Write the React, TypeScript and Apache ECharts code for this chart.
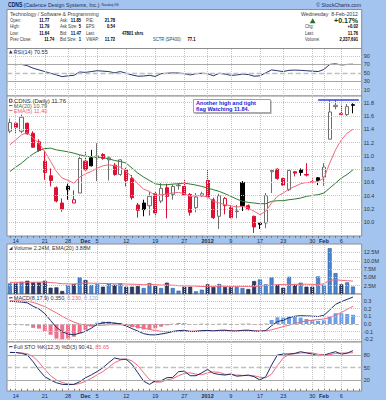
import React, { useEffect, useRef } from "react";
import * as echarts from "echarts";

const FONT = "Liberation Sans, Arial, sans-serif";

const dates = [
  "2011-11-11","2011-11-14","2011-11-15","2011-11-16","2011-11-17","2011-11-18",
  "2011-11-21","2011-11-22","2011-11-23","2011-11-25","2011-11-28","2011-11-29","2011-11-30",
  "2011-12-01","2011-12-02","2011-12-05","2011-12-06","2011-12-07","2011-12-08","2011-12-09",
  "2011-12-12","2011-12-13","2011-12-14","2011-12-15","2011-12-16","2011-12-19","2011-12-20",
  "2011-12-21","2011-12-22","2011-12-23","2011-12-27","2011-12-28","2011-12-29","2011-12-30",
  "2012-01-03","2012-01-04","2012-01-05","2012-01-06","2012-01-09","2012-01-10","2012-01-11",
  "2012-01-12","2012-01-13","2012-01-17","2012-01-18","2012-01-19","2012-01-20","2012-01-23",
  "2012-01-24","2012-01-25","2012-01-26","2012-01-27","2012-01-30","2012-01-31","2012-02-01",
  "2012-02-02","2012-02-03","2012-02-06","2012-02-07","2012-02-08"
];
const padDate = "2012-02-09";

const tickDates = ["2011-11-14","2011-11-21","2011-11-28","2011-12-01","2011-12-05","2011-12-12","2011-12-19","2011-12-27","2012-01-03","2012-01-09","2012-01-17","2012-01-23","2012-01-30","2012-02-01","2012-02-06"];
const tickLabels = ["14","21","28","Dec","5","12","19","27","2012","9","17","23","30","Feb","6"];
const boldTickLabels = ["Dec","2012","Feb"];

const open = [11.37,11.49,11.37,11.49,11.34,11.21,10.92,10.70,10.52,10.29, 10.54,10.29,10.44,10.92,10.97,10.97,11.02,10.94,10.86,10.72, 10.79,10.66,10.26,10.29,10.25,10.43,10.32,10.52,10.42,10.55, 10.54,10.42,10.22,10.40,10.63,10.34,10.09,10.25,10.22,10.16, 10.60,10.25,10.09,9.99,9.99,10.76,10.80,10.66,10.49,10.76, 10.79,10.72,10.60,10.67,10.68,11.25,11.74,11.62,11.62,11.77];
const close = [11.50,11.43,11.58,11.33,11.13,11.08,10.75,10.63,10.32,10.20, 10.49,10.34,10.96,10.79,10.85,11.00,10.96,10.97,10.72,10.94, 10.63,10.37,10.18,10.19,10.39,10.14,10.51,10.39,10.54,10.56, 10.41,10.15,10.38,10.43,10.38,10.07,10.40,10.36,10.07,10.17, 10.25,10.20,9.93,9.97,10.40,10.78,10.66,10.56,10.78,10.74, 10.75,10.71,10.61,10.63,10.83,11.66,11.76,11.64,11.74,11.76];
const low = [11.34,11.34,11.34,11.32,11.12,11.06,10.64,10.54,10.30,10.16, 10.34,10.29,10.44,10.78,10.84,10.62,10.94,10.63,10.70,10.70, 10.54,10.34,10.07,10.09,10.10,10.09,10.29,10.06,10.34,10.49, 10.40,10.10,10.15,10.38,10.36,10.05,9.90,10.12,10.06,10.06, 10.17,10.18,9.84,9.90,9.91,10.44,10.64,10.55,10.47,10.69, 10.70,10.69,10.58,10.56,10.55,11.25,11.70,11.62,11.60,11.64];
const high = [11.56,11.50,11.62,11.50,11.37,11.25,11.07,10.81,10.54,10.36, 10.58,10.48,11.01,11.07,11.09,11.19,11.04,10.99,10.89,10.95, 10.82,10.71,10.29,10.34,10.46,10.46,10.59,10.58,10.57,10.59, 10.65,10.44,10.44,10.46,10.79,10.37,10.43,10.38,10.26,10.26, 10.62,10.27,10.10,10.00,10.44,10.79,10.81,10.67,10.79,10.77, 10.81,10.89,10.66,10.68,10.89,11.84,11.84,11.77,11.78,11.79];

const ma20 = [10.765,10.83,10.89,10.965,11.03,11.08,11.11,11.115,11.09,11.075, 11.06,11.04,11.015,10.995,10.985,10.98,10.975,10.955,10.93,10.915, 10.89,10.815,10.74,10.68,10.63,10.58,10.565,10.565,10.575,10.58, 10.59,10.575,10.56,10.54,10.515,10.49,10.465,10.43,10.39,10.35, 10.315,10.30,10.29,10.28,10.28,10.315,10.325,10.325,10.34,10.35, 10.365,10.39,10.405,10.415,10.44,10.515,10.59,10.665,10.72,10.79];
const ema5 = [11.165,11.24,11.315,11.35,11.265,11.19,11.065,10.915,10.765,10.665, 10.63,10.59,10.68,10.73,10.765,10.815,10.85,10.865,10.85,10.83, 10.765,10.68,10.58,10.50,10.465,10.40,10.415,10.425,10.44,10.45, 10.43,10.39,10.40,10.40,10.38,10.315,10.29,10.265,10.25,10.23, 10.24,10.215,10.165,10.115,10.165,10.29,10.39,10.44,10.50,10.54, 10.58,10.60,10.60,10.615,10.665,10.89,11.09,11.24,11.34,11.40];
const flagLevel = 11.84;
const flagStart = "2012-01-31";

const volumeM = [3.2,3.2,3.7,4.0,3.5,3.5,4.0,1.9,2.0,0.9, 2.7,3.0,5.0,4.2,2.7,3.0,2.2,3.2,2.8,3.2, 2.2,2.2,2.4,1.8,3.3,2.4,1.8,3.4,1.8,1.0, 2.2,2.2,0.8,1.3,2.9,2.1,3.0,2.1,2.1,2.1, 1.8,1.5,3.9,4.4,2.9,5.0,2.8,1.9,5.2,2.8, 3.4,2.2,2.2,5.3,2.8,13.8,6.3,2.9,3.5,2.24];
const volEmaM = [3.5,3.5,3.5,3.55,3.55,3.55,3.6,3.45,3.3,3.1, 3.05,3.0,3.2,3.3,3.25,3.25,3.15,3.15,3.1,3.1, 3.0,2.95,2.9,2.8,2.85,2.8,2.7,2.75,2.65,2.5, 2.45,2.45,2.35,2.25,2.3,2.3,2.35,2.3,2.3,2.3, 2.3,2.25,2.2,2.4,2.6,2.6,2.85,2.85,2.75,2.95, 2.95,2.95,2.9,2.85,3.1,4.1,4.3,4.1,4.0,3.88];

const rsi = [70,69.5,70,67,61,57,53,49,45,41, 43,44,52,51,53,55,54,53,50,53, 49,45,42,42.5,44,41.5,48,49,50,49.5, 48,45,48,49,48,43,49,47,44,45, 47,46,42,43,50,57,55,53,56,56.5, 56,55,54,53,58,70,71.5,68.5,70,70.55];

const macd = [0.295,0.29,0.285,0.275,0.23,0.195,0.135,0.045,-0.045,-0.10, -0.13,-0.14,-0.12,-0.095,-0.055,-0.003,0.015,0.02,0.01,0.003, -0.025,-0.06,-0.092,-0.125,-0.14,-0.142,-0.13,-0.117,-0.097,-0.085, -0.082,-0.097,-0.096,-0.086,-0.084,-0.09,-0.082,-0.08,-0.09,-0.092, -0.082,-0.08,-0.092,-0.095,-0.085,-0.023,0.032,0.048,0.081,0.101, 0.108,0.105,0.102,0.097,0.113,0.181,0.255,0.29,0.32,0.35];
const macdSignal = [0.30,0.30,0.30,0.295,0.28,0.255,0.225,0.185,0.145,0.10, 0.06,0.025,0.0,-0.015,-0.02,-0.02,-0.015,-0.01,-0.01,-0.01, -0.012,-0.02,-0.035,-0.055,-0.07,-0.085,-0.095,-0.10,-0.10,-0.098, -0.095,-0.093,-0.092,-0.09,-0.088,-0.087,-0.086,-0.085,-0.086,-0.087, -0.086,-0.085,-0.087,-0.09,-0.09,-0.075,-0.055,-0.035,-0.015,0.005, 0.025,0.04,0.05,0.057,0.065,0.085,0.115,0.15,0.19,0.23];
const macdHist = [-0.005,-0.01,-0.015,-0.02,-0.05,-0.06,-0.09,-0.14,-0.19,-0.20, -0.19,-0.165,-0.12,-0.08,-0.035,0.017,0.03,0.03,0.02,0.013, -0.013,-0.04,-0.057,-0.07,-0.07,-0.057,-0.035,-0.017,0.003,0.013, 0.013,-0.004,-0.004,0.004,0.004,-0.003,0.004,0.005,-0.004,-0.005, 0.004,0.005,-0.005,-0.005,0.005,0.052,0.087,0.083,0.096,0.096, 0.083,0.065,0.052,0.04,0.048,0.096,0.14,0.14,0.13,0.12];

const stoK = [86,86,84,80,64,44.5,28.7,20.8,14.4,10.5, 10,10.5,16.8,26,33,41,50,62,73,70, 70,58,38,18,10.5,18.4,19,26.3,27,40.5, 42,31,31,38,46,36.5,34,32.6,35,30, 31,32.6,28.7,20.8,28.7,56.3,80,82.4,82.4,84, 87.9,85,82.4,78.4,80,84,88,82,84.5,90.41];
const stoD = [86.5,86,85,83,76,63,46,31,21,15, 11.5,10.3,12.4,17.8,25,33,41,51,62,68, 71,66,55,38,22,15.6,16,21,24,31, 36.6,37.8,34.6,33.3,38,40,39,34.4,34,32.5, 32,31.2,30.8,27.4,26,35,55,73,81.6,83, 84.8,85.6,85.1,82,80.3,80.8,84,84.7,84.8,85.65];

const priceLabels = [10.0,10.2,10.4,10.6,10.8,11.0,11.2,11.4,11.6,11.8];
const rsiLabels = [10,30,50,70,90];
const volLabels = [2.5e6,5e6,7.5e6,10e6,12.5e6];
const macdLabels = [-0.2,-0.1,0,0.1,0.2,0.3];
const stoLabels = [20,50,80];

const headerCol1 = [["Open:","11.77"],["High:","11.79"],["Low:","11.64"],["Prev Close:","11.74"]];
const headerCol2 = [["Ask:","11.85"],["Ask Size:","5"],["Bid:","11.47"],["Bid Size:","1"]];
const headerCol3 = [["P/E:","21.78"],["EPS:","0.54"],["Last:","47801 shrs"],["VWAP:","11.72"]];
const headerRight = [["Chg:","+0.02"],["Last:","11.76"],["Volume:","2,237,691"]];

function buildOption() {
  const cats = [...dates, padDate];
  const tickSet = new Set(tickDates);
  const tickText: Record<string, string> = {};
  tickDates.forEach((d, i) => (tickText[d] = tickLabels[i]));
  const L = 7, W = 354.7;
  const panels = [
    { top: 48.5, height: 47.5, min: -5, max: 107.8, labels: rsiLabels, fmt: (v: number) => String(v), xl: false },
    { top: 96, height: 140, min: 9.794, max: 11.9, labels: priceLabels, fmt: (v: number) => v.toFixed(1), xl: true },
    { top: 244, height: 50, min: 0, max: 15.06e6, labels: volLabels, fmt: (v: number) => (v / 1e6).toFixed(1) + "M", xl: false },
    { top: 294, height: 48, min: -0.2338, max: 0.3896, labels: macdLabels, fmt: (v: number) => v.toFixed(1), xl: false },
    { top: 342, height: 49, min: -5.2, max: 110.9, labels: stoLabels, fmt: (v: number) => String(v), xl: true },
  ];

  const grid = panels.map((p) => ({
    left: L, width: W, top: p.top, height: p.height, show: true,
    backgroundColor: "#ffffff", borderColor: "#8c8c8c", borderWidth: 1,
  }));

  const xAxis = panels.map((p, i) => ({
    type: "category", gridIndex: i, data: cats, boundaryGap: true,
    axisLine: { show: false },
    axisTick: { show: p.xl, interval: 0, alignWithLabel: true, length: 2, lineStyle: { color: "#7a7a7a" } },
    axisLabel: {
      show: p.xl, interval: (_idx: number, val: string) => tickSet.has(val), margin: 1.5,
      fontSize: 5.5, fontFamily: FONT, color: "#1c2a55",
      formatter: (val: string) => { const t = tickText[val] || ""; return boldTickLabels.includes(t) ? `{b|${t}}` : t; },
      rich: { b: { fontWeight: "bold", fontSize: 5.5, fontFamily: FONT, color: "#1c2a55" } },
    },
    splitLine: { show: false },
  }));

  const yAxis = panels.map((p, i) => ({
    type: "value", gridIndex: i, position: "right", min: p.min, max: p.max,
    axisLine: { show: false }, axisTick: { show: false }, splitLine: { show: false },
    axisLabel: { customValues: p.labels, formatter: p.fmt, fontSize: 5.5, fontFamily: FONT, color: "#333", margin: 2 },
  }));

  const dotted = { type: "dotted", color: "#c6c6c6", width: 1 };
  const vLines = tickDates.map((d) => ({ xAxis: d, lineStyle: dotted }));
  const hl = (v: number, type: string, color: string, width = 1) => ({ yAxis: v, lineStyle: { type, color, width } });
  const gridSeries = (i: number, h: any[]) => ({
    type: "line", xAxisIndex: i, yAxisIndex: i, data: [], z: 1, silent: true,
    markLine: { silent: true, symbol: ["none", "none"], label: { show: false }, animation: false, data: [...vLines, ...h] },
  });

  const RED = "#dd1133";
  const candleData = close.map((c, i) => {
    const o = open[i];
    const prev = i > 0 ? close[i - 1] : o;
    const hollow = c >= o;
    const gain = c >= prev;
    const col = gain ? (hollow ? "#6e6e6e" : "#000000") : RED;
    const fill = hollow ? "#ffffff" : col;
    return { value: [o, c, low[i], high[i]], itemStyle: { color: fill, color0: fill, borderColor: col, borderColor0: col, borderWidth: 1 } };
  });
  const volData = volumeM.map((v, i) => {
    const up = i === 0 ? true : close[i] >= close[i - 1];
    return { value: v * 1e6, itemStyle: up ? { color: "#4a86d0", borderColor: "#2b5c9e", borderWidth: 0.6 } : { color: "#2a3b6a", borderColor: "#1a2548", borderWidth: 0.6 } };
  });
  const histData = macdHist.map((v) => ({ value: v, itemStyle: { color: v >= 0 ? "#6e9fe6" : "#f0708c" } }));

  const line = (i: number, data: number[], color: string, z = 4, width = 1) => ({
    type: "line", xAxisIndex: i, yAxisIndex: i, data, symbol: "none", silent: true, z,
    lineStyle: { color, width }, emphasis: { disabled: true },
  });

  const series: any[] = [
    gridSeries(0, [hl(10, "dotted", "#c6c6c6"), hl(90, "dotted", "#c6c6c6"), hl(30, "solid", "#a8a8a8"), hl(70, "solid", "#a8a8a8"), hl(50, "dashed", "#c0c0c0", 1.3)]),
    line(0, rsi, "#23336e"),
    gridSeries(1, priceLabels.map((v) => hl(v, "dotted", "#c6c6c6"))),
    { type: "candlestick", xAxisIndex: 1, yAxisIndex: 1, data: candleData, barWidth: 3.6, z: 3, silent: true },
    line(1, ma20, "#2f7a2f"),
    line(1, ema5, "#f06a7a"),
    {
      type: "line", xAxisIndex: 1, yAxisIndex: 1, data: [], z: 6, silent: true,
      markLine: { silent: true, symbol: ["none", "none"], label: { show: false }, animation: false,
        lineStyle: { color: "#3340ee", width: 1.5, type: "solid" },
        data: [[{ coord: [flagStart, flagLevel] }, { coord: [padDate, flagLevel] }]] },
    },
    gridSeries(2, volLabels.map((v) => hl(v, "dotted", "#c6c6c6"))),
    { type: "bar", xAxisIndex: 2, yAxisIndex: 2, data: volData, barWidth: 4, z: 3, silent: true },
    line(2, volEmaM.map((v) => v * 1e6), "#f06a7a"),
    gridSeries(3, [...macdLabels.filter((v) => v !== 0).map((v) => hl(v, "dotted", "#c6c6c6")), hl(0, "dashed", "#b8b8b8")]),
    { type: "bar", xAxisIndex: 3, yAxisIndex: 3, data: histData, barWidth: 4, z: 3, silent: true },
    line(3, macdSignal, "#f06a7a"),
    line(3, macd, "#1b2b6b"),
    gridSeries(4, [hl(20, "solid", "#a8a8a8"), hl(80, "solid", "#a8a8a8"), hl(50, "dashed", "#c0c0c0", 1.3)]),
    line(4, stoD, "#f06a7a"),
    line(4, stoK, "#1b2b6b"),
  ];

  // text helper; narrow texts are squeezed horizontally around their anchor point
  const T = (text: string, x: number, y: number, o: any = {}) => ({
    type: "text", x, y, z: 10, silent: true, scaleX: o.sx ?? 1, scaleY: 1,
    style: {
      text, fontSize: o.size ?? 5.2, fontFamily: FONT, fontWeight: o.bold ? "bold" : "normal",
      fill: o.color ?? "#3a3a3a", align: o.align ?? "left", textAlign: o.align ?? "left",
      verticalAlign: "middle", textVerticalAlign: "middle", rich: o.rich,
    },
  });
  const N = 0.8;
  const rows = [20.6, 26.8, 33.0, 39.3];
  const g: any[] = [
    { type: "rect", z: 5, silent: true, shape: { x: 7, y: 9.5, width: W, height: 39 }, style: { fill: "#ffffff", stroke: "#8c8c8c", lineWidth: 1 } },
    T("CDNS", 8, 4.8, { bold: true, size: 6.3, sx: 0.8, color: "#0c1c4c" }),
    T("(Cadence Design Systems, Inc.)", 23.5, 5, { size: 5.3, color: "#1c2c5c" }),
    T("Nasdaq GS", 101.5, 5, { size: 4.2, sx: N, color: "#1c2c5c" }),
    T("© StockCharts.com", 361, 5, { size: 5.2, color: "#1c2c5c", align: "right" }),
    T("Technology / Software & Programming", 10, 14.3),
    T("Wednesday  8-Feb-2012", 358, 14.3, { align: "right" }),
  ];
  const lab = (t: string, x: number, y: number) => T(t, x, y, { sx: N });
  const val = (t: string, x: number, y: number) => T(t, x, y, { sx: N, bold: true, color: "#000", align: "right" });
  headerCol1.forEach(([l, v], r) => { g.push(lab(l, 10, rows[r])); g.push(val(v, r === 3 ? 54.3 : 49.3, rows[r])); });
  headerCol2.forEach(([l, v], r) => { g.push(lab(l, 60, rows[r])); g.push(val(v, 81, rows[r])); });
  headerCol3.forEach(([l, v], r) => { g.push(lab(l, 86, rows[r])); g.push(val(v, r === 2 ? 143.3 : 115, rows[r])); });
  g.push(lab("SCTR (SP400):", 153, rows[3]));
  g.push(T("77.1", 187.5, rows[3], { sx: N, bold: true, color: "#000" }));
  g.push({ type: "polygon", z: 10, silent: true, shape: { points: [[309.8, 23.2], [315.6, 23.2], [312.7, 18.2]] }, style: { fill: "#2a6e2a" } });
  g.push(T("+0.17%", 358, rows[0], { bold: true, size: 7, color: "#123a12", align: "right" }));
  headerRight.forEach(([l, v], r) => { g.push(lab(l, 305, rows[r + 1])); g.push(val(v, 358, rows[r + 1])); });

  // panel legends
  const leg = (y: number, color: string) => ({ type: "line", z: 10, silent: true, shape: { x1: 9, y1: y, x2: 12.5, y2: y }, style: { stroke: color, lineWidth: 1 } });
  const LF = { size: 5.5 };
  g.push({ type: "polygon", z: 10, silent: true, shape: { points: [[9, 53.5], [12.5, 53.5], [10.75, 50]] }, style: { fill: "#23336e" } });
  g.push(T("RSI(14) 70.55", 13.5, 52, { ...LF, color: "#2a2a4a" }));
  g.push({ type: "rect", z: 10, silent: true, shape: { x: 9.5, y: 99.2, width: 2.5, height: 3 }, style: { fill: "#fff", stroke: "#333", lineWidth: 0.8 } });
  g.push(T("CDNS (Daily) 11.76", 13.8, 100.8, { size: 6, color: "#333" }));
  g.push(leg(105.6, "#2f7a2f"));
  g.push(T("MA(20) 10.79", 13.8, 105.6, { ...LF, color: "#4a6a4a" }));
  g.push(leg(110.6, "#f06a7a"));
  g.push(T("EMA(5) 11.40", 13.8, 110.6, { ...LF, color: "#e86070" }));
  g.push({ type: "polygon", z: 10, silent: true, shape: { points: [[9, 250], [12.5, 250], [12.5, 246.5]] }, style: { fill: "#2a3b6a" } });
  g.push(T("Volume 2.24M, EMA(20) 3.88M", 13.8, 248.3, { ...LF, color: "#333" }));
  g.push(leg(297.8, "#1b2b6b"));
  g.push(T("{a|MACD(8,17,9) 0.350,} {b|0.230,} {c|0.120}", 13.8, 297.8, { ...LF, rich: {
    a: { fill: "#2a2a4a", color: "#2a2a4a", fontSize: 5.5, fontFamily: FONT },
    b: { fill: "#f0607a", color: "#f0607a", fontSize: 5.5, fontFamily: FONT },
    c: { fill: "#7fa8ea", color: "#7fa8ea", fontSize: 5.5, fontFamily: FONT } } }));
  g.push(leg(346.7, "#1b2b6b"));
  g.push(T("{a|Full STO %K(12,3) %D(3) 90.41,} {b|85.65}", 13.8, 346.7, { ...LF, rich: {
    a: { fill: "#2a2a4a", color: "#2a2a4a", fontSize: 5.5, fontFamily: FONT },
    b: { fill: "#f0607a", color: "#f0607a", fontSize: 5.5, fontFamily: FONT } } }));

  // annotation box
  g.push({ type: "rect", z: 9, silent: true, shape: { x: 194.5, y: 100.5, width: 77, height: 13.2 }, style: { fill: "#9a9a9a" } });
  g.push({ type: "rect", z: 10, silent: true, shape: { x: 193.5, y: 99.5, width: 77, height: 13.2 }, style: { fill: "#ffffff", stroke: "#8a8a8a", lineWidth: 0.8 } });
  g.push(T("Another high and tight", 196, 103, { size: 5.6, bold: true, color: "#1a22dd" }));
  g.push(T("flag Watching 11.84.", 196, 109.3, { size: 5.6, bold: true, color: "#1a22dd" }));

  return {
    animation: false,
    backgroundColor: "#a3c4ef",
    grid, xAxis, yAxis, series, graphic: { elements: g },
  };
}

export default function App() {
  const ref = useRef<HTMLDivElement>(null);
  useEffect(() => {
    if (!ref.current) return;
    const chart = echarts.init(ref.current, undefined, { renderer: "svg" });
    chart.setOption(buildOption() as any);
    return () => chart.dispose();
  }, []);
  return <div ref={ref} style={{ position: "fixed", left: 0, top: 0, width: 386, height: 400 }} />;
}
